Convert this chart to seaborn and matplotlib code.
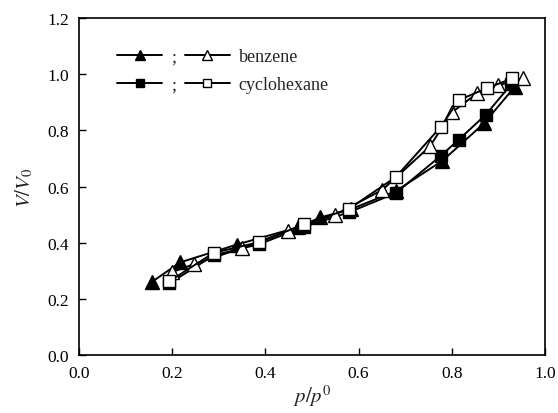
import numpy as np
import pandas as pd
import matplotlib
matplotlib.use("Agg")
import matplotlib.pyplot as plt
import seaborn as sns

# Benzene adsorption (filled) / desorption (open)
benz_ads_x = [0.156, 0.217, 0.338, 0.47, 0.518, 0.583, 0.68, 0.78, 0.869, 0.935]
benz_ads_y = [0.26, 0.33, 0.393, 0.455, 0.49, 0.519, 0.584, 0.692, 0.825, 0.955]
benz_des_x = [0.952, 0.90, 0.855, 0.80, 0.753, 0.651, 0.55, 0.448, 0.35, 0.247, 0.199]
benz_des_y = [0.985, 0.96, 0.933, 0.864, 0.743, 0.588, 0.50, 0.441, 0.381, 0.324, 0.295]

# Cyclohexane adsorption (filled) / desorption (open)
cyc_ads_x = [0.194, 0.289, 0.387, 0.482, 0.579, 0.68, 0.776, 0.815, 0.873, 0.928]
cyc_ads_y = [0.255, 0.355, 0.395, 0.456, 0.508, 0.577, 0.709, 0.767, 0.856, 0.965]
cyc_des_x = [0.93, 0.875, 0.815, 0.776, 0.68, 0.579, 0.482, 0.387, 0.289, 0.194]
cyc_des_y = [0.985, 0.95, 0.908, 0.812, 0.634, 0.52, 0.465, 0.402, 0.364, 0.263]

x_ticks = [0.0, 0.2, 0.4, 0.6, 0.8, 1.0]
y_ticks = [0.0, 0.2, 0.4, 0.6, 0.8, 1.0, 1.2]

sns.set_style("white")
plt.rcParams['font.family'] = ['Liberation Serif', 'DejaVu Serif']
plt.rcParams['mathtext.fontset'] = 'stix'

fig, ax = plt.subplots(figsize=(5.58, 4.14), dpi=100)
fig.subplots_adjust(left=0.1416, right=0.9767, bottom=0.140, top=0.954)

series = [
    (benz_ads_x, benz_ads_y, '^', 'black'),
    (cyc_ads_x, cyc_ads_y, 's', 'black'),
    (benz_des_x, benz_des_y, '^', 'white'),
    (cyc_des_x, cyc_des_y, 's', 'white'),
]
handles = []
for xs, ys, mk, fc in series:
    df = pd.DataFrame({'x': xs, 'y': ys})
    sns.lineplot(data=df, x='x', y='y', sort=False, ax=ax, color='black',
                 linewidth=1.4, marker=mk, markersize=10 if mk == '^' else 8.5,
                 markerfacecolor=fc, markeredgecolor='black', markeredgewidth=1.0)
    handles.append(ax.get_lines()[-1])

ax.legend(handles, [';', ';', 'benzene', 'cyclohexane'], ncol=2, frameon=False,
          loc='upper left', bbox_to_anchor=(0.082, 0.91), handlelength=2.5,
          handletextpad=0.5, columnspacing=0.45, labelspacing=0.6, fontsize=13,
          borderaxespad=0.0, borderpad=0.0, markerscale=0.7)

ax.set_xlim(0, 1.0)
ax.set_ylim(0, 1.2)
ax.set_xticks(x_ticks)
ax.set_yticks(y_ticks)
ax.xaxis.set_major_formatter(lambda s, i: f'{s:.1f}')
ax.yaxis.set_major_formatter(lambda s, i: f'{s:.1f}')
ax.tick_params(direction='in', length=5, width=1.0, labelsize=12.5, colors='black',
               bottom=True, left=True, top=False, right=False)
ax.tick_params(axis='x', pad=7)
ax.tick_params(axis='y', pad=7)
for sp in ax.spines.values():
    sp.set_visible(True)
    sp.set_color('black')
    sp.set_linewidth(1.2)

ax.set_xlabel('$p/p^0$', fontsize=15, labelpad=1)
ax.set_ylabel('$V/V_0$', fontsize=15, labelpad=9)

fig.savefig('out.png', dpi=100, facecolor='white')
